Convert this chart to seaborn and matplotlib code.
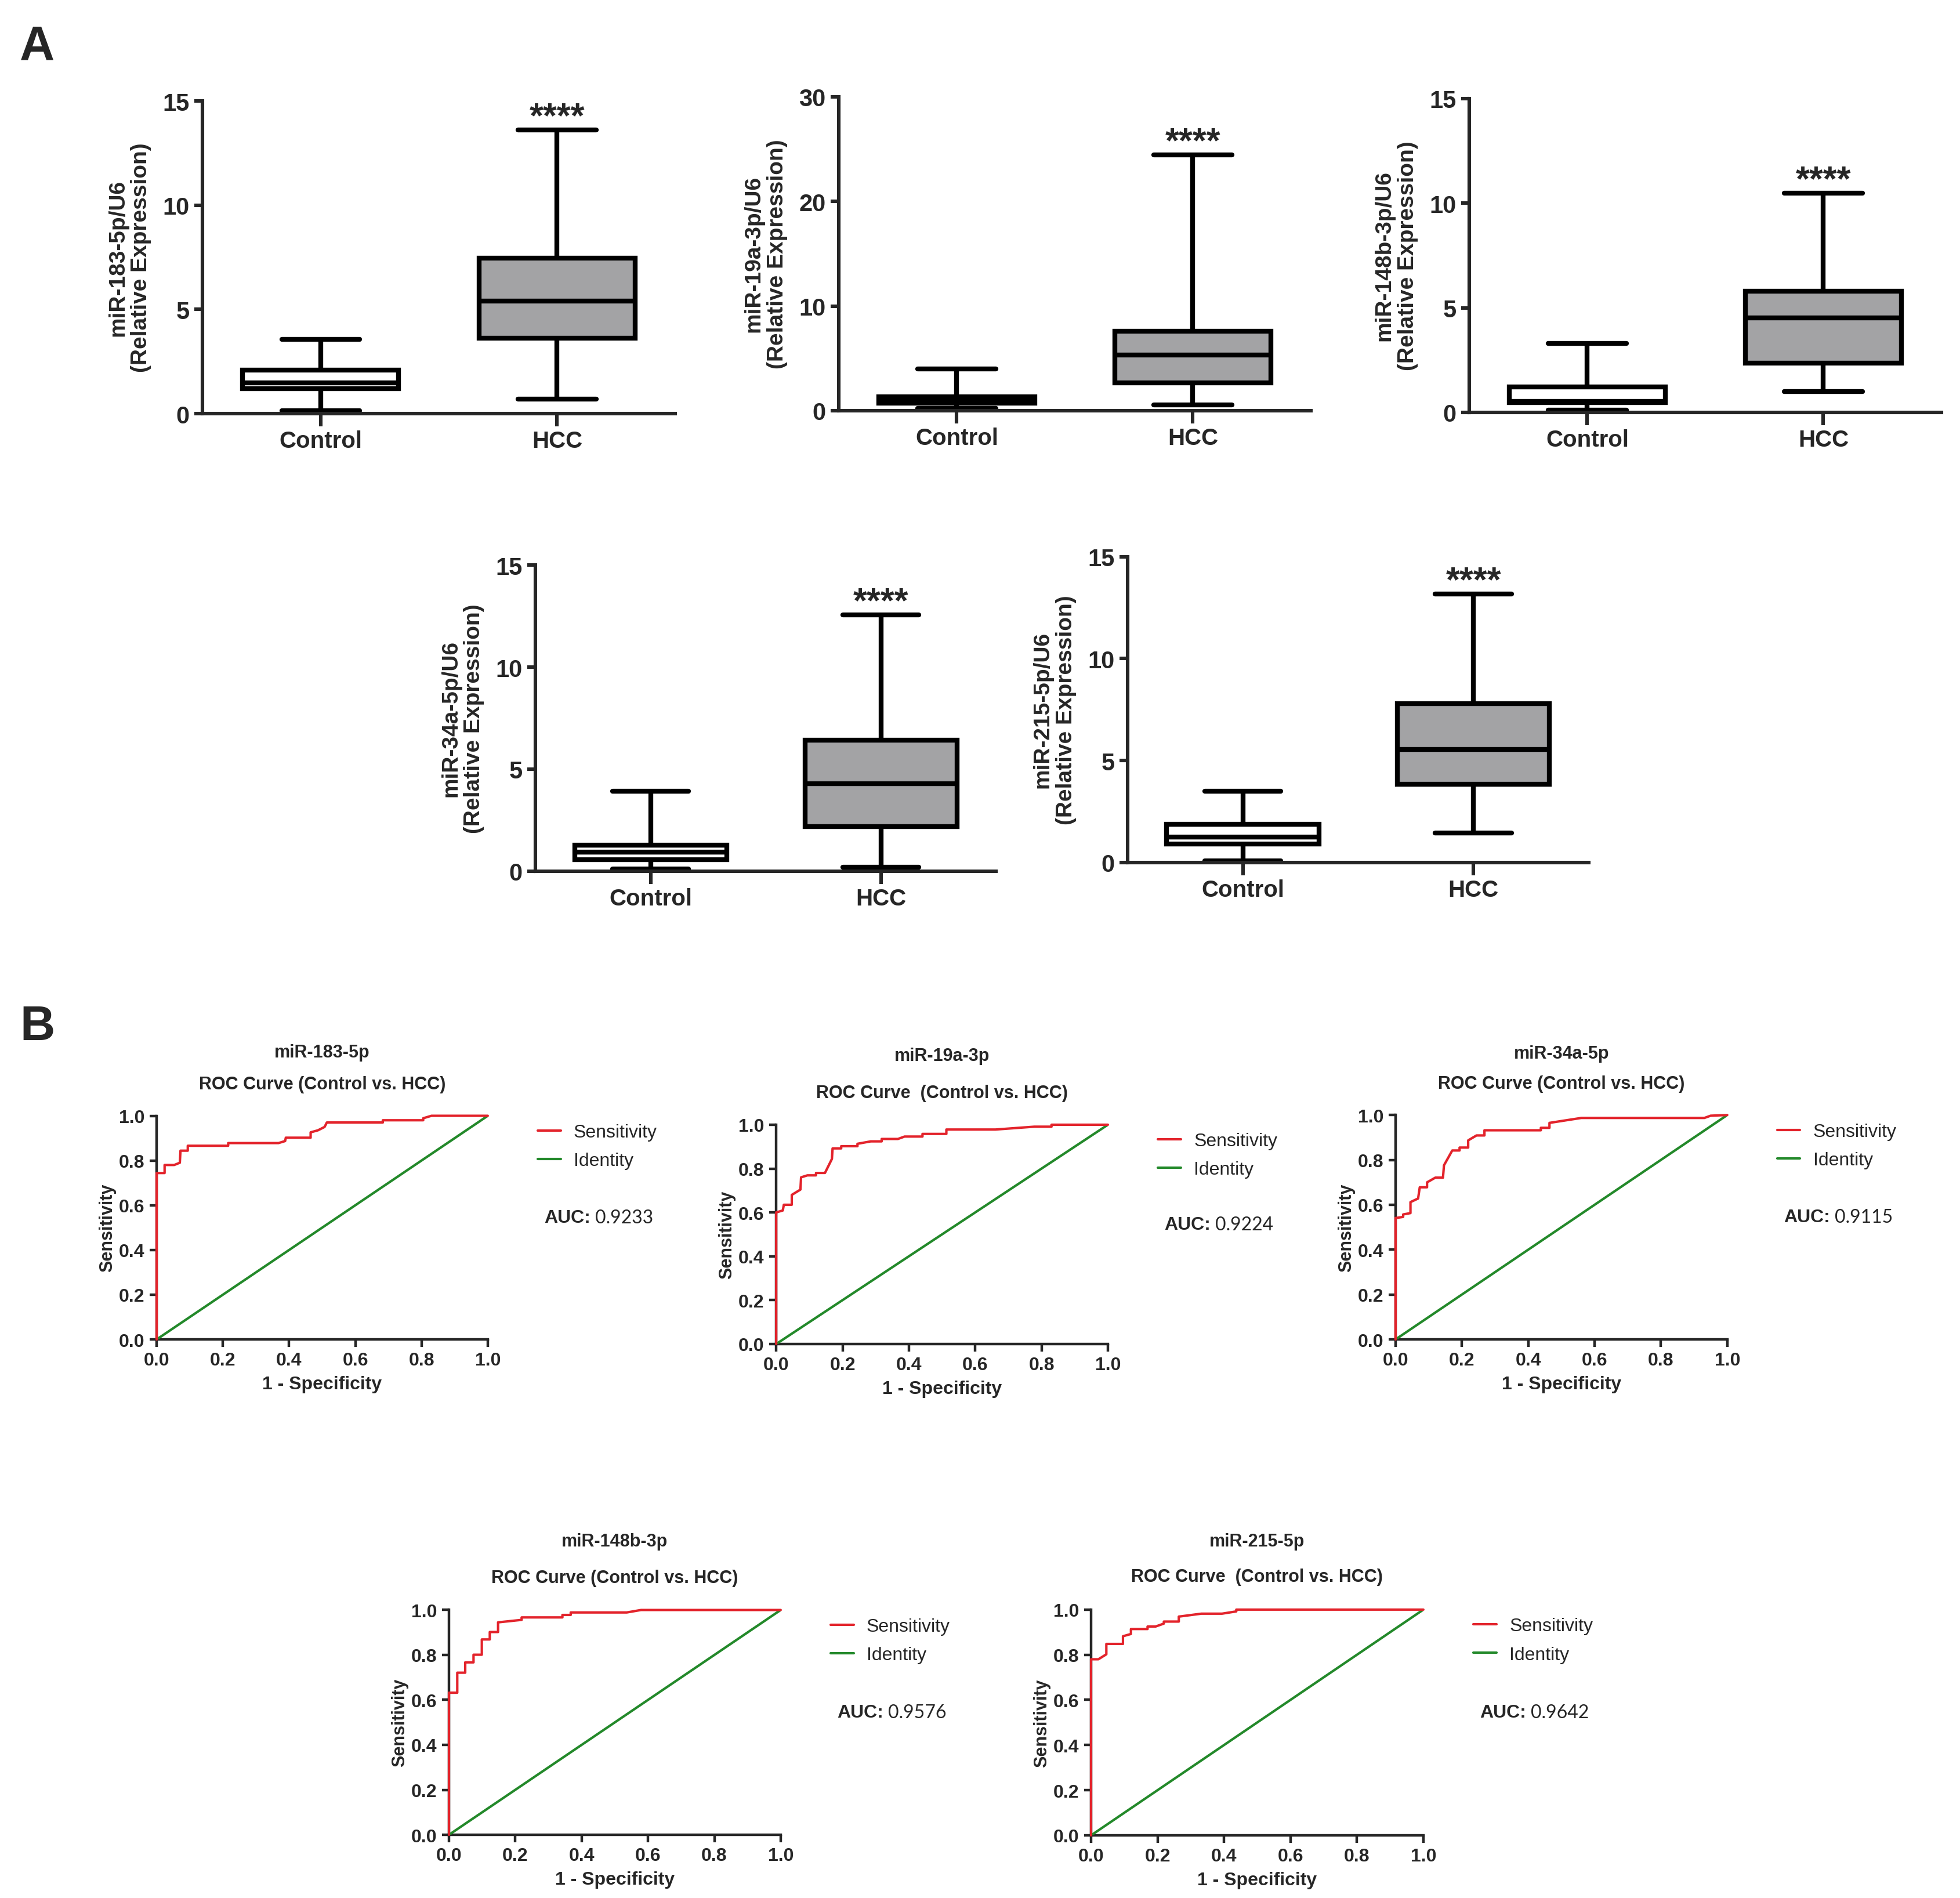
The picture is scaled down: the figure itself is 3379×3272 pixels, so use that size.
import numpy as np
import pandas as pd
import matplotlib
matplotlib.use("Agg")
import matplotlib.pyplot as plt
import seaborn as sns

# ---------------- data: panel A (five-number summaries, min-to-max whiskers) ----------------
groups = ["Control", "HCC"]
box_ylabels = ["miR-183-5p/U6", "miR-19a-3p/U6", "miR-148b-3p/U6", "miR-34a-5p/U6", "miR-215-5p/U6"]
box_ymax = [15, 30, 15, 15, 15]
box_ystep = [5, 10, 5, 5, 5]

ctrl_min = [0.13, 0.24, 0.12, 0.12, 0.08]
ctrl_q1 = [1.20, 0.70, 0.47, 0.58, 0.90]
ctrl_med = [1.47, 1.02, 0.52, 0.93, 1.25]
ctrl_q3 = [2.08, 1.35, 1.23, 1.28, 1.87]
ctrl_max = [3.57, 3.99, 3.29, 3.93, 3.49]

hcc_min = [0.69, 0.53, 0.99, 0.20, 1.46]
hcc_q1 = [3.61, 2.66, 2.36, 2.20, 3.85]
hcc_med = [5.40, 5.32, 4.52, 4.28, 5.54]
hcc_q3 = [7.45, 7.62, 5.80, 6.41, 7.79]
hcc_max = [13.60, 24.44, 10.48, 12.55, 13.16]
signif = ["****", "****", "****", "****", "****"]

# ---------------- data: panel B (ROC curves) ----------------
roc_names = ["miR-183-5p", "miR-19a-3p", "miR-34a-5p", "miR-148b-3p", "miR-215-5p"]
roc_titles = ["ROC Curve (Control vs. HCC)", "ROC Curve  (Control vs. HCC)",
              "ROC Curve (Control vs. HCC)", "ROC Curve (Control vs. HCC)",
              "ROC Curve  (Control vs. HCC)"]
roc_auc = ["0.9233", "0.9224", "0.9115", "0.9576", "0.9642"]

fpr_183 = [0, 0, 0.024, 0.024, 0.053, 0.070, 0.072, 0.094, 0.094, 0.216, 0.216, 0.368, 0.388,
           0.390, 0.465, 0.465, 0.487, 0.507, 0.514, 0.683, 0.683, 0.805, 0.805, 0.830, 1.0]
tpr_183 = [0, 0.744, 0.744, 0.780, 0.780, 0.790, 0.844, 0.844, 0.866, 0.866, 0.878, 0.878, 0.887,
           0.902, 0.902, 0.926, 0.935, 0.950, 0.970, 0.970, 0.980, 0.980, 0.989, 1.0, 1.0]

fpr_19a = [0, 0, 0.020, 0.023, 0.047, 0.047, 0.073, 0.075, 0.094, 0.120, 0.120, 0.147, 0.168,
           0.170, 0.196, 0.196, 0.245, 0.245, 0.285, 0.318, 0.318, 0.367, 0.387, 0.441, 0.441,
           0.513, 0.513, 0.661, 0.778, 0.830, 0.830, 1.0]
tpr_19a = [0, 0.600, 0.609, 0.635, 0.635, 0.680, 0.704, 0.760, 0.769, 0.769, 0.780, 0.780, 0.844,
           0.892, 0.892, 0.902, 0.902, 0.913, 0.924, 0.924, 0.935, 0.935, 0.946, 0.946, 0.958,
           0.958, 0.978, 0.978, 0.991, 0.991, 1.0, 1.0]

fpr_34a = [0, 0, 0.023, 0.023, 0.045, 0.045, 0.068, 0.073, 0.095, 0.095, 0.120, 0.143, 0.146,
           0.171, 0.193, 0.193, 0.219, 0.219, 0.244, 0.268, 0.268, 0.438, 0.438, 0.464, 0.464,
           0.560, 0.931, 0.950, 1.0]
tpr_34a = [0, 0.541, 0.546, 0.557, 0.563, 0.612, 0.628, 0.678, 0.678, 0.700, 0.721, 0.721, 0.776,
           0.842, 0.842, 0.855, 0.855, 0.887, 0.909, 0.909, 0.932, 0.932, 0.943, 0.943, 0.965,
           0.987, 0.987, 0.997, 1.0]

fpr_148b = [0, 0, 0.025, 0.025, 0.049, 0.049, 0.074, 0.074, 0.099, 0.099, 0.123, 0.123, 0.148,
            0.148, 0.219, 0.219, 0.342, 0.342, 0.367, 0.367, 0.536, 0.579, 1.0]
tpr_148b = [0, 0.632, 0.632, 0.721, 0.721, 0.767, 0.767, 0.801, 0.801, 0.869, 0.869, 0.902, 0.902,
            0.945, 0.956, 0.967, 0.967, 0.978, 0.978, 0.989, 0.989, 1.0, 1.0]

fpr_215 = [0, 0, 0.022, 0.046, 0.046, 0.096, 0.096, 0.120, 0.120, 0.170, 0.170, 0.194, 0.219,
           0.219, 0.264, 0.264, 0.332, 0.394, 0.437, 0.437, 1.0]
tpr_215 = [0, 0.780, 0.780, 0.802, 0.848, 0.848, 0.882, 0.892, 0.914, 0.914, 0.925, 0.925, 0.938,
           0.947, 0.947, 0.969, 0.982, 0.982, 0.992, 1.0, 1.0]

roc_fpr = [fpr_183, fpr_19a, fpr_34a, fpr_148b, fpr_215]
roc_tpr = [tpr_183, tpr_19a, tpr_34a, tpr_148b, tpr_215]
identity = [0.0, 1.0]

# ---------------- layout / style ----------------
box_pos = [(0.1033, 0.7818, 0.2411, 0.1647), (0.4278, 0.7834, 0.2408, 0.1653),
           (0.7494, 0.7825, 0.2408, 0.1653), (0.2731, 0.5408, 0.2349, 0.1613),
           (0.5751, 0.5454, 0.2352, 0.1611)]
roc_pos = [(0.0799, 0.2942, 0.1689, 0.1178), (0.3959, 0.2918, 0.1692, 0.1155),
           (0.7118, 0.2942, 0.1692, 0.1182), (0.2290, 0.0333, 0.1692, 0.1184),
           (0.5565, 0.0330, 0.1695, 0.1189)]
title1_y = [1.284, 1.315, 1.274, 1.306, 1.303]
title2_y = [1.141, 1.146, 1.140, 1.142, 1.147]

NARROW = ["Liberation Sans Narrow", "Liberation Sans", "DejaVu Sans"]
WIDE = ["Liberation Sans", "DejaVu Sans"]
AUCFONT = ["Lato", "Liberation Sans", "DejaVu Sans"]
RED = "#E3232B"
GREEN = "#23892A"
GRAY = "#A2A2A6"

sns.set_style("ticks")
plt.rcParams["font.family"] = NARROW
plt.rcParams["axes.linewidth"] = 2.2

fig = plt.figure(figsize=(16.9, 16.365), dpi=200)

# ---------------- panel A ----------------
for i in range(5):
    ax = fig.add_axes(box_pos[i])
    vals = [ctrl_min[i], ctrl_q1[i], ctrl_med[i], ctrl_q3[i], ctrl_max[i],
            hcc_min[i], hcc_q1[i], hcc_med[i], hcc_q3[i], hcc_max[i]]
    df = pd.DataFrame({"Group": np.repeat(groups, 5), "Value": vals})
    sns.boxplot(data=df, x="Group", y="Value", hue="Group",
                palette={"Control": "white", "HCC": GRAY},
                whis=(0, 100), width=0.66, linewidth=3.0, linecolor="black",
                showfliers=False, legend=False, ax=ax)
    ax.set_xlim(-0.5, 1.5)
    ax.set_ylim(0, box_ymax[i])
    ax.set_yticks(np.arange(0, box_ymax[i] + 1, box_ystep[i]))
    sns.despine(ax=ax)
    for s in ("left", "bottom"):
        ax.spines[s].set_linewidth(2.2)
    ax.tick_params(axis="y", length=5, width=2.2, labelsize=15, pad=3)
    ax.tick_params(axis="x", length=8, width=2.2, labelsize=14.5, pad=2)
    for lbl in ax.get_xticklabels() + ax.get_yticklabels():
        lbl.set_fontweight("bold")
    ax.set_xlabel("")
    ax.set_ylabel(box_ylabels[i] + "\n(Relative Expression)", fontsize=14,
                  fontweight="bold", family=WIDE, linespacing=1.15, labelpad=7)
    ax.annotate(signif[i], xy=(1, hcc_max[i]), xytext=(0, -2.5), textcoords="offset points",
                ha="center", va="bottom", fontsize=22, fontweight="bold")

# ---------------- panel B ----------------
for i in range(5):
    ax = fig.add_axes(roc_pos[i])
    sns.lineplot(x=roc_fpr[i], y=roc_tpr[i], color=RED, linewidth=1.5, estimator=None,
                 sort=False, label="Sensitivity", ax=ax, clip_on=False, zorder=5)
    sns.lineplot(x=identity, y=identity, color=GREEN, linewidth=1.5, estimator=None,
                 sort=False, label="Identity", ax=ax, zorder=4)
    ax.set_xlim(0, 1)
    ax.set_ylim(0, 1)
    ticks = np.round(np.arange(0, 1.01, 0.2), 1)
    ax.set_xticks(ticks)
    ax.set_yticks(ticks)
    ax.set_xticklabels([f"{t:.1f}" for t in ticks])
    ax.set_yticklabels([f"{t:.1f}" for t in ticks])
    sns.despine(ax=ax)
    for s in ("left", "bottom"):
        ax.spines[s].set_linewidth(1.6)
    ax.tick_params(axis="both", length=4.5, width=1.6, labelsize=11.5, pad=3)
    for lbl in ax.get_xticklabels() + ax.get_yticklabels():
        lbl.set_fontweight("bold")
    ax.set_xlabel("1 - Specificity", fontsize=11.5, fontweight="bold", labelpad=4)
    ax.set_ylabel("Sensitivity", fontsize=11, fontweight="bold", family=WIDE, labelpad=1.5)
    ax.text(0.5, title1_y[i], roc_names[i], transform=ax.transAxes, ha="center", va="center",
            fontsize=11, fontweight="bold")
    ax.text(0.5, title2_y[i], roc_titles[i], transform=ax.transAxes, ha="center", va="center",
            fontsize=11, fontweight="bold")
    ax.legend(loc="upper left", bbox_to_anchor=(1.15, 0.965), frameon=False, fontsize=11.5,
              handlelength=1.25, handletextpad=0.7, labelspacing=0.6, borderpad=0,
              borderaxespad=0)
    t = ax.text(1.17, 0.545, "AUC:", transform=ax.transAxes, ha="left", va="center",
                fontsize=11.5, fontweight="bold")
    ax.annotate(roc_auc[i], xy=(1, 0.5), xycoords=t, xytext=(3, 0), textcoords="offset points",
                ha="left", va="center", fontsize=11.5, family=AUCFONT)

fig.text(0.019, 0.975, "A", fontsize=30, fontweight="bold", ha="center", va="center")
fig.text(0.019, 0.459, "B", fontsize=30, fontweight="bold", ha="center", va="center")

fig.savefig("out.png", dpi=200, facecolor="white")
